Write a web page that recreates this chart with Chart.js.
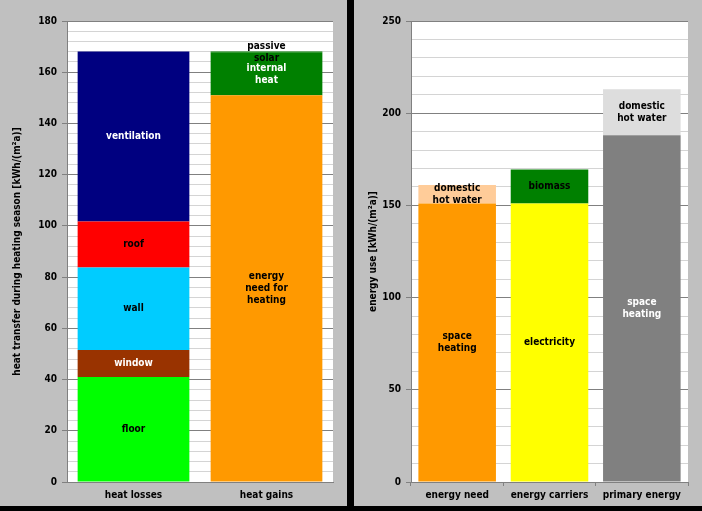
<!DOCTYPE html>
<html>
<head>
<meta charset="utf-8">
<script src="https://cdn.jsdelivr.net/npm/chart.js@4.4.1/dist/chart.umd.min.js"></script>
<style>
html, body { margin: 0; padding: 0; background: #000; width: 702px; height: 511px; overflow: hidden; }
.panel { position: absolute; top: 0; height: 506px; background: #c0c0c0; }
#p1 { left: 0; width: 347px; }
#p2 { left: 354px; width: 348px; }
canvas { display: block; }
</style>
</head>
<body>
<div class="panel" id="p1"><canvas id="balanceChart" width="347" height="506"></canvas></div>
<div class="panel" id="p2"><canvas id="useChart" width="348" height="506"></canvas></div>
<script>
// 左: 暖房期間の熱収支
const balanceCategories = ['heat losses', 'heat gains'];
const lossLabels = [['floor'], ['window'], ['wall'], ['roof'], ['ventilation']];
const lossValues = [41, 10.5, 32.3, 17.9, 66.4];
const gainLabels = [['energy', 'need for', 'heating'], ['internal', 'heat'], ['passive', 'solar']];
const gainValues = [151, 16.6, 0.5];
const balanceTickLabels = [0, 20, 40, 60, 80, 100, 120, 140, 160, 180];

// 右: エネルギー使用量
const useCategories = ['energy need', 'energy carriers', 'primary energy'];
const needLabels = [['space', 'heating'], ['domestic', 'hot water']];
const needValues = [151, 10];
const carrierLabels = [['electricity'], ['biomass']];
const carrierValues = [151, 18.5];
const primaryLabels = [['space', 'heating'], ['domestic', 'hot water']];
const primaryValues = [188, 25];
const useTickLabels = [0, 50, 100, 150, 200, 250];

// 色
const lossColors = ['#00ff00', '#993300', '#00ccff', '#ff0000', '#000080'];
const lossText = ['#000', '#fff', '#000', '#000', '#fff'];
const gainColors = ['#ff9900', '#008000', '#008000'];
const gainText = ['#000', '#fff', '#000'];
const needColors = ['#ff9900', '#ffcc99'];
const carrierColors = ['#ffff00', '#008000'];
const primaryColors = ['#808080', '#dddddd'];
const primaryText = ['#fff', '#000'];

const FONT = '"DejaVu Sans Condensed", "DejaVu Sans", sans-serif';
Chart.defaults.font.family = FONT;
Chart.defaults.font.size = 10;
Chart.defaults.font.weight = 'bold';
Chart.defaults.color = '#000';

// 1本の棒の積み上げ部分をデータセットにする
function segments(labels, values, colors, textColors, catIndex, nCats) {
    return values.map((v, i) => {
        const d = new Array(nCats).fill(null);
        d[catIndex] = v;
        return {
            data: d,
            backgroundColor: colors[i],
            segLabel: labels[i],
            textColor: textColors[i],
            barPercentage: 0.84,
            categoryPercentage: 1
        };
    });
}

// プロットエリアを白で塗る
const plotBg = {
    id: 'plotBg',
    beforeDraw(chart) {
        const a = chart.chartArea;
        chart.ctx.save();
        chart.ctx.fillStyle = '#ffffff';
        chart.ctx.fillRect(a.left, a.top, a.right - a.left, a.bottom - a.top);
        chart.ctx.restore();
    }
};

// 棒の中のラベル
const segLabels = {
    id: 'segLabels',
    afterDatasetsDraw(chart) {
        const ctx = chart.ctx;
        ctx.save();
        ctx.font = 'bold 10px ' + FONT;
        ctx.textAlign = 'center';
        ctx.textBaseline = 'middle';
        chart.data.datasets.forEach((ds, i) => {
            chart.getDatasetMeta(i).data.forEach((bar, j) => {
                if (ds.data[j] == null) return;
                const cy = (bar.y + bar.base) / 2;
                const lines = ds.segLabel;
                ctx.fillStyle = ds.textColor;
                lines.forEach((t, k) => {
                    ctx.fillText(t, bar.x, cy + (k - (lines.length - 1) / 2) * 12);
                });
            });
        });
        ctx.restore();
    }
};

function makeScales(max, step, tickLabels, title, yWidth, titlePad, showXTicks) {
    const isMajor = v => tickLabels.includes(v);
    return {
        x: {
            stacked: true,
            grid: {
                display: true, drawOnChartArea: false, offset: true, tickLength: 4,
                tickColor: showXTicks ? '#808080' : 'rgba(0,0,0,0)'
            },
            border: { color: '#808080' },
            ticks: { padding: 3 },
            afterFit(s) { s.height = 24; }
        },
        y: {
            stacked: true,
            min: 0,
            max: max,
            ticks: {
                stepSize: step,
                autoSkip: false,
                padding: 5,
                // nullだとグリッド線まで消えるので空文字にする
                callback: v => isMajor(v) ? String(v) : ''
            },
            grid: {
                color: c => isMajor(c.tick.value) ? '#808080' : '#d4d4d4',
                tickColor: c => isMajor(c.tick.value) ? '#808080' : 'rgba(0,0,0,0)',
                tickLength: 5
            },
            border: { color: '#808080' },
            title: { display: true, text: title, padding: { top: titlePad, bottom: 0 } },
            afterFit(s) { s.width = yWidth; }
        }
    };
}

function makeConfig(categories, datasets, scales) {
    return {
        type: 'bar',
        data: { labels: categories, datasets: datasets },
        options: {
            responsive: false,
            animation: false,
            layout: { padding: { top: 21, right: 14, left: 0, bottom: 0 } },
            plugins: { legend: { display: false }, tooltip: { enabled: false } },
            scales: scales
        },
        plugins: [plotBg, segLabels]
    };
}

const balanceSets = [].concat(
    segments(lossLabels, lossValues, lossColors, lossText, 0, 2),
    segments(gainLabels, gainValues, gainColors, gainText, 1, 2)
);
const balanceChart = new Chart(
    document.getElementById('balanceChart'),
    makeConfig(balanceCategories, balanceSets,
        makeScales(180, 4, balanceTickLabels, 'heat transfer during heating season [kWh/(m²a)]', 67, 11, false))
);

const useSets = [].concat(
    segments(needLabels, needValues, needColors, ['#000', '#000'], 0, 3),
    segments(carrierLabels, carrierValues, carrierColors, ['#000', '#000'], 1, 3),
    segments(primaryLabels, primaryValues, primaryColors, primaryText, 2, 3)
);
const useChart = new Chart(
    document.getElementById('useChart'),
    makeConfig(useCategories, useSets,
        makeScales(250, 10, useTickLabels, 'energy use [kWh/(m²a)]', 57, 13, true))
);
</script>
</body>
</html>
